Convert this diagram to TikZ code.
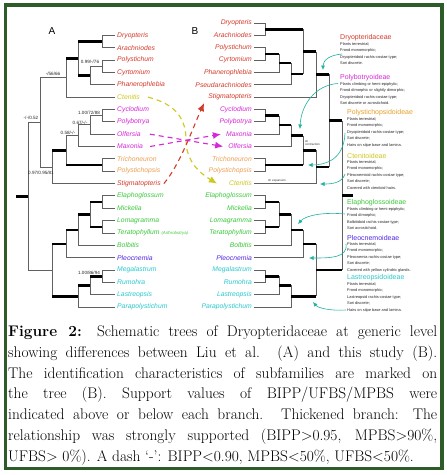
\documentclass[tikz,border=0pt]{standalone}
\usepackage{fontspec}
\setsansfont{Liberation Sans}
\usetikzlibrary{arrows.meta}
\definecolor{cred}{RGB}{212,58,42}
\definecolor{cyel}{RGB}{205,200,30}
\definecolor{cmag}{RGB}{215,40,215}
\definecolor{corg}{RGB}{236,160,80}
\definecolor{corgt}{RGB}{228,160,40}
\definecolor{cgrn}{RGB}{60,200,60}
\definecolor{cblu}{RGB}{80,40,230}
\definecolor{ccyn}{RGB}{40,200,205}
\definecolor{cteal}{RGB}{30,178,160}
\definecolor{cframe}{RGB}{45,92,40}
\tikzset{
 tl/.style={line width=0.9pt, draw=black!62},
 tk/.style={line width=2.6pt, draw=black},
 tax/.style={font=\fontsize{6.8}{8}\selectfont\sffamily\itshape, inner sep=0pt},
 taxA/.style={tax, anchor=west, xshift=2pt},
 taxB/.style={tax, anchor=east, xshift=-2pt},
 supv/.style={font=\fontsize{4.6}{5}\selectfont\sffamily, inner sep=0pt, text=black!85},
 ttl/.style={font=\fontsize{7}{8}\selectfont\sffamily, anchor=west, inner sep=0pt},
 body/.style={font=\fontsize{3.9}{6.4}\selectfont\sffamily, anchor=north west, align=left, inner sep=0pt, text=black!85},
 tealarr/.style={draw=cteal, line width=0.6pt, -{Latex[length=4.5pt,width=4pt]}},
 moved/.style={line width=1.1pt, dash pattern=on 5pt off 4pt, -{Latex[length=8pt,width=7pt]}},
 tiny/.style={font=\fontsize{3}{3.6}\selectfont\sffamily, inner sep=0pt, anchor=west, align=left, text=black!80}
}
\begin{document}
\begin{tikzpicture}[x=1pt,y=-1pt]
\useasboundingbox (0,0) rectangle (447,475);
\fill[white] (0,0) rectangle (447,475);
\draw[cframe, line width=3.6pt] (5.5,5) rectangle (442,468.5);

\node[font=\fontsize{10}{12}\selectfont\sffamily, inner sep=0pt] (labA) at (52,31) {A};
\node[font=\fontsize{10}{12}\selectfont\sffamily, inner sep=0pt] (labB) at (195,31) {B};

% ---------- tree A leaves
\coordinate (A1) at (115,35.35);
\coordinate (A2) at (115,47.7);
\coordinate (A3) at (115,60.05);
\coordinate (A4) at (115,72.4);
\coordinate (A5) at (115,84.75);
\coordinate (A6) at (115,97.1);
\coordinate (A7) at (115,109.45);
\coordinate (A8) at (115,121.8);
\coordinate (A9) at (115,134.15);
\coordinate (A10) at (115,146.5);
\coordinate (A11) at (115,158.85);
\coordinate (A12) at (115,171.2);
\coordinate (A13) at (115,183.55);
\coordinate (A14) at (115,195.9);
\coordinate (A15) at (115,208.25);
\coordinate (A16) at (115,220.6);
\coordinate (A17) at (115,232.95);
\coordinate (A18) at (115,245.3);
\coordinate (A19) at (115,257.65);
\coordinate (A20) at (115,270);
\coordinate (A21) at (115,282.35);
\coordinate (A22) at (115,294.7);
\coordinate (A23) at (115,307.05);

\node[taxA, text=cred] (LA1) at (A1) {Dryopteris};
\node[taxA, text=cred] (LA2) at (A2) {Arachniodes};
\node[taxA, text=cred] (LA3) at (A3) {Polystichum};
\node[taxA, text=cred] (LA4) at (A4) {Cyrtomium};
\node[taxA, text=cred] (LA5) at (A5) {Phanerophlebia};
\node[taxA, text=cyel] (LA6) at (A6) {Ctenitis};
\node[taxA, text=cmag] (LA7) at (A7) {Cyclodium};
\node[taxA, text=cmag] (LA8) at (A8) {Polybotrya};
\node[taxA, text=cmag] (LA9) at (A9) {Olfersia};
\node[taxA, text=cmag] (LA10) at (A10) {Maxonia};
\node[taxA, text=corg] (LA11) at (A11) {Trichoneuron};
\node[taxA, text=corg] (LA12) at (A12) {Polystichopsis};
\node[taxA, text=cred] (LA13) at (A13) {Stigmatopteris};
\node[taxA, text=cgrn] (LA14) at (A14) {Elaphoglossum};
\node[taxA, text=cgrn] (LA15) at (A15) {Mickelia};
\node[taxA, text=cgrn] (LA16) at (A16) {Lomagramma};
\node[taxA, text=cgrn] (LA17) at (A17) {Teratophyllum};
\node[tax, anchor=west, text=cgrn, font=\fontsize{4.3}{5}\selectfont\sffamily\itshape] (LA17b) at ([xshift=1.5pt]LA17.east) {(Arthrobotrya)};
\node[taxA, text=cgrn] (LA18) at (A18) {Bolbitis};
\node[taxA, text=cblu] (LA19) at (A19) {Pleocnemia};
\node[taxA, text=ccyn] (LA20) at (A20) {Megalastrum};
\node[taxA, text=ccyn] (LA21) at (A21) {Rumohra};
\node[taxA, text=ccyn] (LA22) at (A22) {Lastreopsis};
\node[taxA, text=ccyn] (LA23) at (A23) {Parapolystichum};

% ---------- tree A internal
\coordinate (a1) at (102,41.5);
\coordinate (a2) at (102,66.2);
\coordinate (a3) at (90,75.5);
\coordinate (a4) at (78,58.5);
\coordinate (a5) at (66,77.8);
\coordinate (a6) at (102,115.6);
\coordinate (a7) at (90,124.9);
\coordinate (a8) at (78,135.7);
\coordinate (a9) at (102,165);
\coordinate (a10) at (66,150.4);
\coordinate (a11) at (52,167);
\coordinate (a12) at (40,122.4);
\coordinate (a13) at (102,202.1);
\coordinate (a14) at (102,226.8);
\coordinate (a15) at (90,214.4);
\coordinate (a16) at (78,229.9);
\coordinate (a17) at (66,243.8);
\coordinate (a18) at (102,276.2);
\coordinate (a19) at (90,285.4);
\coordinate (a20) at (78,296.2);
\coordinate (a21) at (52,270);
\coordinate (aR) at (28,196.2);
\coordinate (aS) at (16,196.2);

\draw[tl] (A1) -- (a1 |- A1) -- (a1 |- A2) -- (A2);
\draw[tl] (A3) -- (a2 |- A3) -- (a2 |- A4) -- (A4);
\draw[tl] (a3 |- a2) -- (a2);
\draw[tl] (a3 |- a2) -- (a3 |- A5) -- (A5);
\draw[tl] (a4 |- a1) -- (a4 |- a3);
\draw[tl] (a5 |- a4) -- (a5 |- A6) -- (A6);
\draw[tl] (a12 |- a5) -- (a5);
\draw[tl] (A7) -- (a6 |- A7) -- (a6 |- A8) -- (A8);
\draw[tl] (a7 |- a6) -- (a6);
\draw[tl] (a7 |- a6) -- (a7 |- A9) -- (A9);
\draw[tl] (a8 |- a7) -- (a7);
\draw[tl] (a8 |- a7) -- (a8 |- A10) -- (A10);
\draw[tl] (a10 |- a8) -- (a8);
\draw[tl] (A11) -- (a9 |- A11) -- (a9 |- A12) -- (A12);
\draw[tl] (a10 |- a8) -- (a10 |- a9);
\draw[tl] (a11 |- a10) -- (a11 |- A13) -- (A13);
\draw[tl] (a12 |- a11) -- (a11);
\draw[tl] (a12 |- a5) -- (a12 |- a11);
\draw[tl] (aR |- a12) -- (a12);
\draw[tl] (A14) -- (a13 |- A14) -- (a13 |- A15) -- (A15);
\draw[tl] (A16) -- (a14 |- A16) -- (a14 |- A17) -- (A17);
\draw[tl] (a15 |- a13) -- (a15 |- a14);
\draw[tl] (a16 |- a15) -- (a16 |- A18) -- (A18);
\draw[tl] (a17 |- a16) -- (a17 |- A19) -- (A19);
\draw[tl] (A20) -- (a18 |- A20) -- (a18 |- A21) -- (A21);
\draw[tl] (a19 |- a18) -- (a19 |- A22) -- (A22);
\draw[tl] (a20 |- a19) -- (a20 |- A23) -- (A23);
\draw[tl] (a21 |- a17) -- (a21 |- a20);
\draw[tl] (aR |- a21) -- (a21);
\draw[tl] (aR |- a12) -- (aR |- a21);

\draw[tk] (a4 |- a1) -- (a1);
\draw[tk] (a4 |- a3) -- (a3);
\draw[tk] (a5 |- a4) -- (a4);
\draw[tk] (a10 |- a9) -- (a9);
\draw[tk] (a11 |- a10) -- (a10);
\draw[tk] (a15 |- a13) -- (a13);
\draw[tk] (a15 |- a14) -- (a14);
\draw[tk] (a16 |- a15) -- (a15);
\draw[tk] (a17 |- a16) -- (a16);
\draw[tk] (a21 |- a17) -- (a17);
\draw[tk] (a19 |- a18) -- (a18);
\draw[tk] (a20 |- a19) -- (a19);
\draw[tk] (a21 |- a20) -- (a20);
\draw[tk] (aS) -- (aR);

% support values
\node[supv] (s1) at (53,74) {-/56/66};
\node[supv] (s2) at (90,62) {0.99/-/76};
\node[supv] (s3) at (89,112.5) {1.00/72/88};
\node[supv] (s4) at (80,122.5) {0.67/-/-};
\node[supv] (s5) at (68,132.5) {0.58/-/-};
\node[supv] (s6) at (31,117.5) {-/-/0.52};
\node[supv] (s7) at (41,173) {0.97/0.95/81};
\node[supv] (s8) at (89,273) {1.00/86/94};

% ---------- tree B leaves
\coordinate (B0) at (254,23);
\coordinate (B1) at (254,35.35);
\coordinate (B2) at (254,47.7);
\coordinate (B3) at (254,60.05);
\coordinate (B4) at (254,72.4);
\coordinate (B5) at (254,84.75);
\coordinate (B6) at (254,97.1);
\coordinate (B7) at (254,109.45);
\coordinate (B8) at (254,121.8);
\coordinate (B9) at (254,134.15);
\coordinate (B10) at (254,146.5);
\coordinate (B11) at (254,158.85);
\coordinate (B12) at (254,171.2);
\coordinate (B13) at (254,183.55);
\coordinate (B14) at (254,195.9);
\coordinate (B15) at (254,208.25);
\coordinate (B16) at (254,220.6);
\coordinate (B17) at (254,232.95);
\coordinate (B18) at (254,245.3);
\coordinate (B19) at (254,257.65);
\coordinate (B20) at (254,270);
\coordinate (B21) at (254,282.35);
\coordinate (B22) at (254,294.7);
\coordinate (B23) at (254,307.05);

\node[taxB, text=cred] (LB0) at (B0) {Dryopteris};
\node[taxB, text=cred] (LB1) at (B1) {Arachniodes};
\node[taxB, text=cred] (LB2) at (B2) {Polystichum};
\node[taxB, text=cred] (LB3) at (B3) {Cyrtomium};
\node[taxB, text=cred] (LB4) at (B4) {Phanerophlebia};
\node[taxB, text=cred] (LB5) at (B5) {Pseudarachniodes};
\node[taxB, text=cred] (LB6) at (B6) {Stigmatopteris};
\node[taxB, text=cmag] (LB7) at (B7) {Cyclodium};
\node[taxB, text=cmag] (LB8) at (B8) {Polybotrya};
\node[taxB, text=cmag] (LB9) at (B9) {Maxonia};
\node[taxB, text=cmag] (LB10) at (B10) {Olfersia};
\node[taxB, text=corg] (LB11) at (B11) {Trichoneuron};
\node[taxB, text=corg] (LB12) at (B12) {Polystichopsis};
\node[taxB, text=cyel] (LB13) at (B13) {Ctenitis};
\node[taxB, text=cgrn] (LB14) at (B14) {Elaphoglossum};
\node[taxB, text=cgrn] (LB15) at (B15) {Mickelia};
\node[taxB, text=cgrn] (LB16) at (B16) {Lomagramma};
\node[taxB, text=cgrn] (LB17) at (B17) {Teratophyllum};
\node[taxB, text=cgrn] (LB18) at (B18) {Bolbitis};
\node[taxB, text=cblu] (LB19) at (B19) {Pleocnemia};
\node[taxB, text=ccyn] (LB20) at (B20) {Megalastrum};
\node[taxB, text=ccyn] (LB21) at (B21) {Rumohra};
\node[taxB, text=ccyn] (LB22) at (B22) {Lastreopsis};
\node[taxB, text=ccyn] (LB23) at (B23) {Parapolystichum};

% ---------- tree B internal
\coordinate (b1) at (265,29.2);
\coordinate (b2) at (265,53.9);
\coordinate (b3) at (279,63.1);
\coordinate (b4) at (291,73.9);
\coordinate (b5) at (303,51.6);
\coordinate (b6) at (316,74.3);
\coordinate (b7) at (265,115.6);
\coordinate (b8) at (279,124.9);
\coordinate (b9) at (291,135.7);
\coordinate (b10) at (265,165);
\coordinate (b11) at (303,150.4);
\coordinate (b12) at (316,167);
\coordinate (b13) at (329,120.6);
\coordinate (b14) at (265,202.1);
\coordinate (b15) at (265,226.8);
\coordinate (b16) at (279,214.4);
\coordinate (b17) at (291,229.9);
\coordinate (b18) at (303,243.8);
\coordinate (b19) at (265,276.2);
\coordinate (b20) at (279,285.4);
\coordinate (b21) at (291,296.2);
\coordinate (b22) at (316,270);
\coordinate (bR) at (342,195.3);
\coordinate (bS) at (353,195.3);

\draw[tl] (B0) -- (b1 |- B0) -- (b1 |- B1) -- (B1);
\draw[tl] (B2) -- (b2 |- B2) -- (b2 |- B3) -- (B3);
\draw[tl] (b3 |- b2) -- (b3 |- B4) -- (B4);
\draw[tl] (b4 |- b3) -- (b4 |- B5) -- (B5);
\draw[tl] (b5 |- b1) -- (b5 |- b4);
\draw[tl] (b6 |- b5) -- (b6 |- B6) -- (B6);
\draw[tl] (B7) -- (b7 |- B7) -- (b7 |- B8) -- (B8);
\draw[tl] (b8 |- b7) -- (b8 |- B9) -- (B9);
\draw[tl] (b9 |- b8) -- (b9 |- B10) -- (B10);
\draw[tl] (B11) -- (b10 |- B11) -- (b10 |- B12) -- (B12);
\draw[tl] (b11 |- b9) -- (b11 |- b10);
\draw[tl] (b12 |- b11) -- (b12 |- B13) -- (B13);
\draw[tl] (b13 |- b6) -- (b13 |- b12);
\draw[tl] (B14) -- (b14 |- B14) -- (b14 |- B15) -- (B15);
\draw[tl] (B16) -- (b15 |- B16) -- (b15 |- B17) -- (B17);
\draw[tl] (b16 |- b14) -- (b16 |- b15);
\draw[tl] (b17 |- b16) -- (b17 |- B18) -- (B18);
\draw[tl] (b18 |- b17) -- (b18 |- B19) -- (B19);
\draw[tl] (B20) -- (b19 |- B20) -- (b19 |- B21) -- (B21);
\draw[tl] (b20 |- b19) -- (b20 |- B22) -- (B22);
\draw[tl] (b21 |- b20) -- (b21 |- B23) -- (B23);
\draw[tl] (b22 |- b18) -- (b22 |- b21);
\draw[tl] (bR |- b13) -- (bR |- b22);

\draw[tk] (b1) -- (b5 |- b1);
\draw[tk] (b2) -- (b3 |- b2);
\draw[tk] (b3) -- (b4 |- b3);
\draw[tk] (b4) -- (b5 |- b4);
\draw[tk] (b5) -- (b6 |- b5);
\draw[tk] (b6) -- (b13 |- b6);
\draw[tk] (b7) -- (b8 |- b7);
\draw[tk] (b8) -- (b9 |- b8);
\draw[tk] (b9) -- (b11 |- b9);
\draw[tk] (b10) -- (b11 |- b10);
\draw[tk] (b11) -- (b12 |- b11);
\draw[tk] (b12) -- (b13 |- b12);
\draw[tk] (b13) -- (bR |- b13);
\draw[tk] (b14) -- (b16 |- b14);
\draw[tk] (b15) -- (b16 |- b15);
\draw[tk] (b16) -- (b17 |- b16);
\draw[tk] (b17) -- (b18 |- b17);
\draw[tk] (b18) -- (b22 |- b18);
\draw[tk] (b19) -- (b20 |- b19);
\draw[tk] (b20) -- (b21 |- b20);
\draw[tk] (b21) -- (b22 |- b21);
\draw[tk] (b22) -- (bR |- b22);
\draw[tk] (bR) -- (bS);

\node[tiny] (shc) at (305,143) {sh\\contraction};
\node[tiny] (she) at (268,180.5) {sh expansion};

% ---------- moved taxa (dashed arrows)
\draw[moved, draw=cyel] ([xshift=8pt]LA6.east) .. controls (175,104) and (186,118) .. (186,140) .. controls (186,160) and (198,172) .. ([xshift=-12pt]LB13.west);
\draw[moved, draw=cred] ([xshift=3pt]LA13.east) .. controls (180,165) and (194,125) .. ([xshift=-4pt,yshift=-6pt]LB6.west);
\draw[moved, draw=cmag] ([xshift=9pt]LA9.east) -- ([xshift=-5pt]LB10.west);
\draw[moved, draw=cmag] ([xshift=7pt]LA10.east) -- ([xshift=-5pt]LB9.west);

% ---------- subfamily notes
\node[ttl, text=cred] (t1) at (340,38) {Dryopteridaceae};
\node[body] (d1) at (340,42.5) {Plants terrestrial;\\Frond monomorphic;\\Dryopteridoid rachis-costae type;\\Sori discrete.};
\node[ttl, text=cmag] (t2) at (340,78) {Polybotryoideae};
\node[body] (d2) at (340,82.5) {Plants climbing or hemi-epiphytic;\\Frond dimorphic or slightly dimorphic;\\Dryopteridoid rachis-costae type;\\Sori discrete or acrostichoid.};
\node[ttl, text=corgt] (t3) at (347,113) {Polystichopsidoideae};
\node[body] (d3) at (347,117.5) {Plants terrestrial;\\Frond monomorphic;\\Dryopteridoid rachis-costae type;\\Sori discrete;\\Hairs on stipe base and lamina.};
\node[ttl, text=cyel] (t4) at (347,156) {Ctenitoideae};
\node[body] (d4) at (347,160.5) {Plants terrestrial;\\Frond monomorphic;\\Pleocnemioid rachis-costae type;\\Sori discrete;\\Covered with ctenitoid hairs.};
\node[ttl, text=cgrn] (t5) at (347,203) {Elaphoglossoideae};
\node[body] (d5) at (347,207.5) {Plants climbing or hemi-epiphytic;\\Frond dimorphic;\\Bolbitidoid rachis-costae type;\\Sori acrostichoid.};
\node[ttl, text=cblu] (t6) at (347,238) {Pleocnemoideae};
\node[body] (d6) at (347,242.5) {Plants terrestrial;\\Frond monomorphic;\\Pleocnemia rachis-costae type;\\Sori discrete;\\Covered with yellow cylindric glands.};
\node[ttl, text=ccyn] (t7) at (347,278) {Lastreopsidoideae};
\node[body] (d7) at (347,282.5) {Plants terrestrial;\\Frond monomorphic;\\Lastreopsid rachis-costae type;\\Sori discrete;\\Hairs on stipe base and lamina.};

% ---------- teal pointers
\coordinate (p1s) at (342,54);   \coordinate (p1e) at (323,70);
\coordinate (p2s) at (338,83.5); \coordinate (p2e) at (300,129);
\coordinate (p3s) at (345,133);  \coordinate (p3e) at (308,165);
\coordinate (p4s) at (345,174);  \coordinate (p4e) at (320,184);
\coordinate (p5s) at (345,214);  \coordinate (p5e) at (298,224);
\coordinate (p6s) at (346,244);  \coordinate (p6e) at (309,258);
\coordinate (p7s) at (346,310);  \coordinate (p7e) at (313,302);
\draw[tealarr] (p1s) .. controls (330,55) and (323,60) .. (p1e);
\draw[tealarr] (p2s) .. controls (315,85) and (301,105) .. (p2e);
\draw[tealarr] (p3s) .. controls (344,160) and (325,165) .. (p3e);
\draw[tealarr] (p4s) .. controls (342,183) and (332,184) .. (p4e);
\draw[tealarr] (p5s) .. controls (325,212) and (306,215) .. (p5e);
\draw[tealarr] (p6s) .. controls (348,258) and (330,258) .. (p6e);
\draw[tealarr] (p7s) .. controls (330,311) and (318,308) .. (p7e);

% ---------- caption
\node[anchor=north west, inner sep=0pt, align=left, font=\fontsize{15.4}{20.75}\selectfont] (cap) at (8,325.5) {%
\makebox[429pt][s]{\textbf{Figure 2:} Schematic trees of Dryopteridaceae at generic level}\\
\makebox[429pt][s]{showing differences between Liu et al. (A) and this study (B).}\\
\makebox[429pt][s]{The identification characteristics of subfamilies are marked on}\\
\makebox[429pt][s]{the tree (B). Support values of BIPP/UFBS/MPBS were}\\
\makebox[429pt][s]{indicated above or below each branch. Thickened branch: The}\\
\makebox[429pt][s]{relationship was strongly supported (BIPP>0.95, MPBS>90\%,}\\
\makebox[429pt][l]{UFBS> 0\%). A dash `-': BIPP<0.90, MPBS<50\%, UFBS<50\%.}};
\end{tikzpicture}
\end{document}
